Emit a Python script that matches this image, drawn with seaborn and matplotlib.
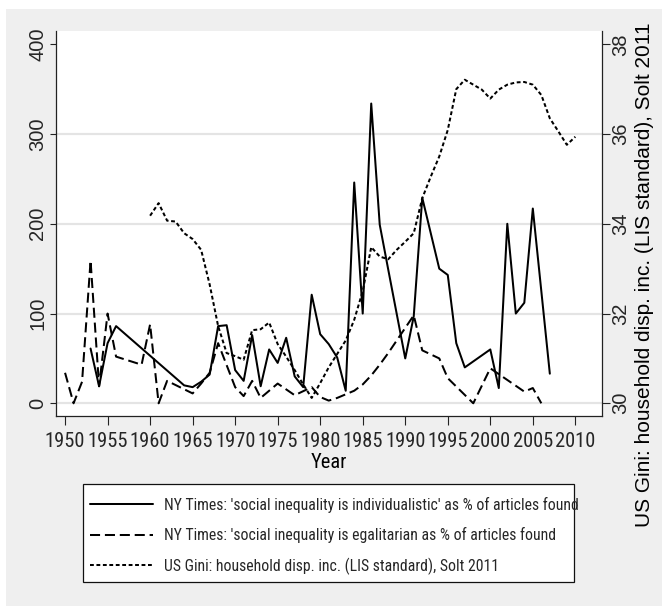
import matplotlib
matplotlib.use("Agg")
import numpy as np
import pandas as pd
import seaborn as sns
import matplotlib.pyplot as plt
from matplotlib import font_manager
from matplotlib.patches import Rectangle

# ---------------- data ----------------
ind_years = [1953, 1954, 1955, 1956, 1964, 1965, 1966, 1967, 1968, 1969, 1970,
             1971, 1972, 1973, 1974, 1975, 1976, 1977, 1978, 1979, 1980, 1981,
             1982, 1983, 1984, 1985, 1986, 1987, 1988, 1990, 1991, 1992, 1994,
             1995, 1996, 1997, 2000, 2001, 2002, 2003, 2004, 2005, 2007]
ind_values = [61, 19, 67, 86, 20, 18, 24, 32, 86, 87, 37,
              25, 76, 19, 60, 45, 73, 30, 18, 121, 77, 66,
              51, 14, 246, 100, 334, 199, 149, 50, 97, 229, 150,
              143, 67, 40, 60, 17, 200, 100, 112, 217, 33]

ega_years = [1950, 1951, 1952, 1953, 1954, 1955, 1956, 1959, 1960, 1961, 1962,
             1965, 1966, 1967, 1968, 1970, 1971, 1972, 1973, 1975, 1977, 1979,
             1980, 1981, 1982, 1983, 1984, 1985, 1986, 1987, 1988, 1989, 1990,
             1991, 1992, 1994, 1995, 1998, 2000, 2004, 2005, 2006]
ega_values = [34, 0, 24, 159, 19, 100, 52, 43, 88, 0, 25,
              11, 22, 34, 67, 18, 8, 25, 6, 22, 9, 18,
              7, 3, 6, 10, 14, 21, 31, 43, 56, 70, 84,
              98, 59, 50, 28, 0, 39, 13, 17, 0]

gini_years = list(range(1960, 2011))
gini_values = [34.18, 34.46, 34.07, 34.05, 33.79, 33.66, 33.42, 32.65, 31.72, 31.12,
               31.05, 30.97, 31.63, 31.65, 31.80, 31.32, 31.04, 30.74, 30.42, 30.12,
               30.45, 30.80, 31.10, 31.40, 31.86, 32.50, 33.48, 33.27, 33.21, 33.42,
               33.60, 33.79, 34.57, 35.05, 35.50, 36.09, 37.00, 37.21, 37.10, 36.99,
               36.79, 36.99, 37.10, 37.15, 37.16, 37.10, 36.87, 36.35, 36.06, 35.76,
               35.94]

x_ticks = list(range(1950, 2011, 5))
left_ticks = [0, 100, 200, 300, 400]
right_ticks = [30, 32, 34, 36, 38]
grid_levels = [0, 100, 200, 300]

label_ind = "NY Times: 'social inequality is individualistic' as % of articles found"
label_ega = "NY Times: 'social inequality is egalitarian as % of articles found"
label_gini = "US Gini: household disp. inc. (LIS standard), Solt 2011"

# ---------------- style ----------------
sns.set_theme(style="white")
names = {f.name for f in font_manager.fontManager.ttflist}
REG = "Liberation Sans" if "Liberation Sans" in names else "DejaVu Sans"
NARROW = None
for cand in ["Liberation Sans Narrow", "Arial Narrow", "Roboto Condensed",
             "Open Sans Condensed"]:
    if cand in names:
        NARROW = cand
        break
if NARROW:
    XT_SIZE, YEAR_SIZE, LEG_SIZE, LEG_SP, LEG_TOP = 14.8, 14.8, 11.3, 0.91, 490.6
else:
    NARROW = REG
    XT_SIZE, YEAR_SIZE, LEG_SIZE, LEG_SP, LEG_TOP = 12.4, 12.8, 9.7, 1.0, 490.4
plt.rcParams["font.family"] = [REG, "DejaVu Sans"]

W, H = 662, 606
fig = plt.figure(figsize=(W / 100, H / 100), dpi=100, facecolor="white")

# outer grey background
fig.add_artist(Rectangle((6 / W, 0), 1, 1 - 9 / H, transform=fig.transFigure,
                         facecolor="#efefef", edgecolor="none", zorder=-10))

L, R, T, B = 55.7, 602.3, 31.0, 416.0
ax = fig.add_axes([L / W, 1 - B / H, (R - L) / W, (B - T) / H])
ax.set_facecolor("white")

xmin, xmax = 1948.9, 2013.17
ymin, ymax = -14.15, 414.8

for g in grid_levels:
    ax.axhline(g, color="#e4e4e4", lw=1.6, zorder=0)

ind_df = pd.DataFrame({"year": ind_years, "value": ind_values})
ega_df = pd.DataFrame({"year": ega_years, "value": ega_values})
gini_df = pd.DataFrame({"year": gini_years, "value": gini_values})

LW = 1.45
sns.lineplot(data=ind_df, x="year", y="value", ax=ax, color="black", linewidth=LW)
line_ind = ax.lines[-1]
sns.lineplot(data=ega_df, x="year", y="value", ax=ax, color="black", linewidth=LW)
line_ega = ax.lines[-1]
line_ega.set_dashes((5.0, 2.4))

ax2 = ax.twinx()
sns.lineplot(data=gini_df, x="year", y="value", ax=ax2, color="black", linewidth=LW)
line_gini = ax2.lines[-1]
line_gini.set_dashes((1.9, 1.3))

ax.set_xlim(xmin, xmax)
ax.set_ylim(ymin, ymax)
ax2.set_ylim(30 + ymin / 50, 30 + ymax / 50)

ax.set_xticks(x_ticks)
ax.set_xticklabels([str(v) for v in x_ticks], fontsize=XT_SIZE, family=NARROW)
ax.set_yticks(left_ticks)
ax.set_yticklabels([str(v) for v in left_ticks], fontsize=14.5, rotation=90,
                   va="center", ha="right")
ax2.set_yticks(right_ticks)
ax2.set_yticklabels([str(v) for v in right_ticks], fontsize=14.5, rotation=90,
                    va="center", ha="left")

ax.tick_params(axis="x", direction="out", length=6.5, width=0.8, color="#222222",
               pad=5.0, bottom=True)
ax.tick_params(axis="y", direction="out", length=4.6, width=0.8, color="#222222",
               pad=1.5, left=True)
ax2.tick_params(axis="y", direction="out", length=5.5, width=0.8, color="#222222",
                pad=1.0, right=True)

for s in ["top", "right"]:
    ax.spines[s].set_visible(False)
for s in ["top", "left", "bottom"]:
    ax2.spines[s].set_visible(False)
for sp in [ax.spines["left"], ax.spines["bottom"], ax2.spines["right"]]:
    sp.set_color("#222222")
    sp.set_linewidth(0.9)

ax.set_xlabel("Year", fontsize=YEAR_SIZE, family=NARROW, labelpad=1.5, color="black")
ax.set_ylabel("")
ax2.set_ylabel("")

fig.text(644 / W, 1 - 275 / H, label_gini, rotation=90, ha="center", va="center",
         fontsize=15.0, color="black")

# legend box
bx0, by0, bx1, by1 = 83.3, 484.3, 574.0, 581.7
fig.add_artist(Rectangle((bx0 / W, 1 - by1 / H), (bx1 - bx0) / W, (by1 - by0) / H,
                         transform=fig.transFigure, facecolor="white",
                         edgecolor="#111111", lw=0.9, zorder=1))
leg = fig.legend([line_ind, line_ega, line_gini], [label_ind, label_ega, label_gini],
                 loc="upper left", bbox_to_anchor=((bx0 + 0.7) / W, 1 - LEG_TOP / H),
                 frameon=False, borderaxespad=0, borderpad=0.4,
                 handlelength=4.0, handletextpad=0.7, labelspacing=LEG_SP,
                 prop={"family": NARROW, "size": LEG_SIZE})
leg.set_zorder(5)

fig.savefig("out.png", dpi=100, facecolor="white")
